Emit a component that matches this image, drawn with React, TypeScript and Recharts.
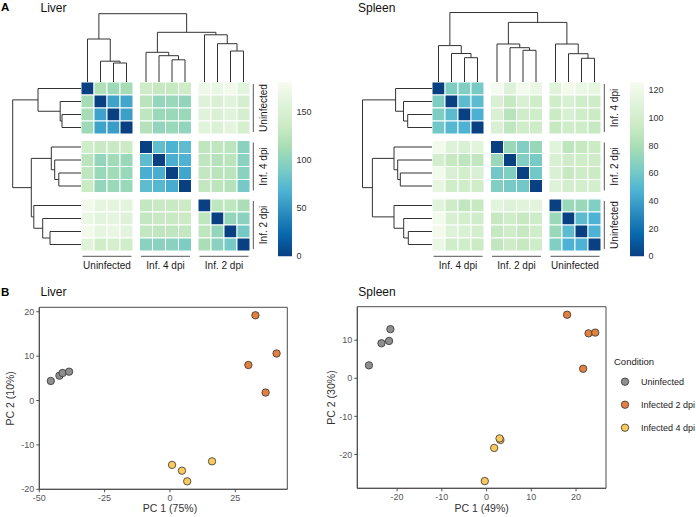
import React from 'react';
import { ScatterChart, Scatter, XAxis, YAxis, ReferenceArea } from 'recharts';

const FONT = '"Liberation Sans", Arial, Helvetica, sans-serif';

// reversed GnBu palette (0 -> dark blue, max -> pale)
const GNBU = ['#084081', '#0868ac', '#2b8cbe', '#4eb3d3', '#7bccc4', '#a8ddb5', '#ccebc5', '#e0f3db', '#f7fcf0'];

// ---------- heatmap data ----------
const liverGroups = ['Uninfected', 'Inf. 4 dpi', 'Inf. 2 dpi'];
const spleenGroups = ['Inf. 4 dpi', 'Inf. 2 dpi', 'Uninfected'];

const liverDist = [
  [0, 118, 108, 112, 138, 132, 132, 138, 172, 168, 175, 160],
  [112, 0, 58, 60, 125, 103, 106, 102, 155, 150, 158, 145],
  [112, 58, 0, 56, 127, 106, 106, 106, 157, 152, 158, 145],
  [108, 58, 55, 0, 122, 102, 106, 102, 158, 152, 162, 146],
  [140, 133, 133, 136, 0, 78, 68, 76, 128, 128, 126, 98],
  [125, 103, 110, 106, 76, 0, 65, 68, 128, 122, 125, 98],
  [128, 106, 110, 106, 65, 65, 0, 60, 130, 125, 125, 98],
  [135, 103, 106, 106, 76, 72, 64, 0, 130, 126, 122, 88],
  [174, 164, 162, 160, 130, 133, 133, 136, 0, 127, 127, 115],
  [168, 160, 162, 155, 130, 133, 133, 136, 127, 0, 103, 98],
  [177, 164, 166, 160, 130, 128, 128, 130, 127, 103, 0, 88],
  [158, 140, 145, 140, 98, 98, 98, 92, 115, 98, 88, 0],
];

const spleenDist = [
  [0, 64, 65, 62, 125, 108, 122, 117, 110, 123, 118, 115],
  [64, 0, 52, 52, 105, 92, 105, 98, 98, 104, 98, 96],
  [64, 52, 0, 46, 105, 86, 98, 98, 94, 104, 98, 94],
  [60, 50, 47, 0, 105, 89, 98, 96, 92, 98, 96, 92],
  [122, 108, 105, 112, 0, 74, 65, 73, 110, 88, 92, 94],
  [100, 92, 88, 90, 74, 0, 65, 62, 104, 96, 98, 96],
  [122, 105, 100, 105, 60, 65, 0, 60, 105, 92, 96, 94],
  [115, 98, 98, 98, 65, 62, 60, 0, 108, 100, 100, 100],
  [110, 96, 90, 92, 112, 108, 110, 112, 0, 74, 74, 65],
  [122, 104, 100, 98, 92, 98, 92, 96, 74, 0, 52, 47],
  [123, 108, 105, 100, 92, 98, 92, 98, 74, 52, 0, 47],
  [117, 98, 98, 94, 90, 96, 92, 96, 65, 47, 47, 0],
];

const liverMax = 181;
const spleenMax = 126;
const liverBarTicks = [0, 50, 100, 150];
const spleenBarTicks = [0, 20, 40, 60, 80, 100, 120];

// dendrograms: node(height, left, right); leaves are indices
type Tree = number | { h: number; l: Tree; r: Tree };
const N = (h: number, l: Tree, r: Tree): Tree => ({ h, l, r });
const liverTree = N(68.3,
  N(43, 0, N(20.8, 1, N(19, 2, 3))),
  N(49.7, N(29.7, 4, N(26.3, 5, N(22.2, 6, 7))), N(47.2, 8, N(38.3, 9, N(31, 10, 11)))));
const spleenTree = N(69.5,
  N(36.4, 0, N(28.5, 1, N(24.3, 2, 3))),
  N(59.6, N(38, 4, N(34.3, 5, N(31.7, 6, 7))), N(38, 8, N(28.3, 9, N(23.7, 10, 11)))));

// ---------- PCA data ----------
const conditions = ['Uninfected', 'Infected 2 dpi', 'Infected 4 dpi'];
const conditionColors = ['#8e8e8e', '#e2803f', '#fac95e'];

const liverUninfected = [{ x: -45.6, y: 4.4 }, { x: -42.3, y: 5.6 }, { x: -41.1, y: 6.2 }, { x: -38.6, y: 6.5 }];
const liverInf2 = [{ x: 32.7, y: 19.2 }, { x: 40.8, y: 10.6 }, { x: 30.0, y: 8.0 }, { x: 36.6, y: 1.8 }];
const liverInf4 = [{ x: 0.8, y: -14.5 }, { x: 4.6, y: -15.8 }, { x: 6.6, y: -18.2 }, { x: 16.1, y: -13.7 }];

const spleenUninfected = [{ x: -21.5, y: 12.9 }, { x: -23.5, y: 9.2 }, { x: -21.8, y: 9.8 }, { x: -26.3, y: 3.4 }];
const spleenInf2 = [{ x: 18.0, y: 16.7 }, { x: 22.8, y: 11.8 }, { x: 24.3, y: 12.0 }, { x: 21.6, y: 2.5 }];
const spleenInf4 = [{ x: 3.1, y: -16.2 }, { x: 2.9, y: -15.8 }, { x: 1.7, y: -18.3 }, { x: -0.4, y: -27.0 }];

const liverXTicks = [-50, -25, 0, 25];
const liverYTicks = [-20, -10, 0, 10, 20];
const spleenXTicks = [-20, -10, 0, 10, 20];
const spleenYTicks = [-20, -10, 0, 10];

// ---------- layout constants ----------
const SPAN = 13; // 12 cells + 2 half-cell gaps
const HM = 169; // heatmap px size
const DENDRO = 70;
const ZERO = { top: 0, right: 0, bottom: 0, left: 0 };
const GROUP_CENTERS = [2, 6.5, 11];
const pos = (i: number) => i + 0.5 + 0.5 * Math.floor(i / 4);

function hexToRgb(h: string) {
  return [parseInt(h.slice(1, 3), 16), parseInt(h.slice(3, 5), 16), parseInt(h.slice(5, 7), 16)];
}
function colorFor(v: number, max: number) {
  const t = Math.max(0, Math.min(1, v / max)) * (GNBU.length - 1);
  const i = Math.min(GNBU.length - 2, Math.floor(t));
  const f = t - i;
  const a = hexToRgb(GNBU[i]);
  const b = hexToRgb(GNBU[i + 1]);
  const c = a.map((x, k) => Math.round(x + (b[k] - x) * f));
  return `rgb(${c[0]},${c[1]},${c[2]})`;
}

function dendroSegments(tree: Tree) {
  const segs: { p: number; h: number }[][] = [];
  const walk = (n: Tree): { p: number; h: number } => {
    if (typeof n === 'number') return { p: pos(n), h: 0 };
    const L = walk(n.l);
    const R = walk(n.r);
    segs.push([{ p: L.p, h: L.h }, { p: L.p, h: n.h }, { p: R.p, h: n.h }, { p: R.p, h: R.h }]);
    return { p: (L.p + R.p) / 2, h: n.h };
  };
  walk(tree);
  return segs;
}

const noDot = () => <g />;

function ColTick(props: any) {
  const { x, y, index, labels } = props;
  return (
    <g>
      <line x1={x - 24.5} x2={x + 24.5} y1={y + 5.3} y2={y + 5.3} stroke="#555" strokeWidth={1} />
      <text x={x} y={y + 17.8} textAnchor="middle" fontSize={10} fill="#1a1a1a">{labels[index]}</text>
    </g>
  );
}
function RowTick(props: any) {
  const { x, y, index, labels } = props;
  return (
    <g>
      <line x1={x + 3.3} x2={x + 3.3} y1={y - 24} y2={y + 24} stroke="#555" strokeWidth={1} />
      <text transform={`translate(${x + 16.8},${y}) rotate(-90)`} textAnchor="middle" fontSize={10} fill="#1a1a1a">{labels[index]}</text>
    </g>
  );
}

function HeatPanel({ hmLeft, hmTop, matrix, max, groups, tree, barLeft, barTicks, id }: any) {
  const cells: { x: number; y: number; v: number }[] = [];
  matrix.forEach((row: number[], r: number) => row.forEach((v: number, c: number) => cells.push({ x: pos(c), y: pos(r), v })));
  const segs = dendroSegments(tree);
  const cellPx = HM / SPAN;
  const cellShape = (p: any) => (
    <rect x={p.cx - cellPx / 2} y={p.cy - cellPx / 2} width={cellPx} height={cellPx}
      fill={colorFor(p.payload.v, max)} stroke="#ffffff" strokeWidth={1} />
  );
  return (
    <>
      {/* top dendrogram */}
      <div style={{ position: 'absolute', left: hmLeft, top: hmTop - DENDRO }}>
        <ScatterChart width={HM} height={DENDRO} margin={ZERO}>
          <XAxis type="number" dataKey="x" domain={[0, SPAN]} hide allowDataOverflow />
          <YAxis type="number" dataKey="y" domain={[0, DENDRO]} hide allowDataOverflow />
          {segs.map((s, i) => (
            <Scatter key={i} data={s.map((q) => ({ x: q.p, y: q.h }))} line={{ stroke: '#333', strokeWidth: 1 }}
              lineType="joint" shape={noDot} isAnimationActive={false} />
          ))}
        </ScatterChart>
      </div>
      {/* left dendrogram */}
      <div style={{ position: 'absolute', left: hmLeft - DENDRO, top: hmTop }}>
        <ScatterChart width={DENDRO} height={HM} margin={ZERO}>
          <XAxis type="number" dataKey="x" domain={[0, DENDRO]} reversed hide allowDataOverflow />
          <YAxis type="number" dataKey="y" domain={[0, SPAN]} reversed hide allowDataOverflow />
          {segs.map((s, i) => (
            <Scatter key={i} data={s.map((q) => ({ x: q.h, y: q.p }))} line={{ stroke: '#333', strokeWidth: 1 }}
              lineType="joint" shape={noDot} isAnimationActive={false} />
          ))}
        </ScatterChart>
      </div>
      {/* heatmap */}
      <div style={{ position: 'absolute', left: hmLeft, top: hmTop }}>
        <ScatterChart width={HM + 30} height={HM + 25} margin={ZERO}>
          <XAxis type="number" dataKey="x" domain={[0, SPAN]} allowDataOverflow ticks={GROUP_CENTERS} interval={0}
            height={25} axisLine={false} tickLine={false} tickSize={0} tickMargin={0} tick={<ColTick labels={groups} />} />
          <YAxis type="number" dataKey="y" domain={[0, SPAN]} allowDataOverflow reversed orientation="right" ticks={GROUP_CENTERS}
            interval={0} width={30} axisLine={false} tickLine={false} tickSize={0} tickMargin={0} tick={<RowTick labels={groups} />} />
          <Scatter data={cells} shape={cellShape} isAnimationActive={false} />
        </ScatterChart>
      </div>
      {/* color bar */}
      <div style={{ position: 'absolute', left: barLeft, top: hmTop - 6 }}>
        <ScatterChart width={14 + 30} height={174.3 + 12} margin={{ top: 6, bottom: 6, left: 0, right: 0 }}>
          <defs>
            <linearGradient id={id} x1="0" y1="0" x2="0" y2="1">
              {GNBU.slice().reverse().map((c, i) => (
                <stop key={i} offset={i / (GNBU.length - 1)} stopColor={c} />
              ))}
            </linearGradient>
          </defs>
          <XAxis type="number" dataKey="x" domain={[0, 1]} hide allowDataOverflow />
          <YAxis type="number" dataKey="y" orientation="right" domain={[0, max]} allowDataOverflow ticks={barTicks} interval={0}
            width={30} axisLine={false} tickLine={false} tickSize={0} tickMargin={4.5} tick={{ fontSize: 9, fill: '#333' }} />
          <ReferenceArea x1={0} x2={1} y1={0} y2={max} fill={`url(#${id})`} fillOpacity={1} stroke="none" />
        </ScatterChart>
      </div>
    </>
  );
}

function PcaPanel({ left, top, width, height, margin, xDomain, yDomain, xTicks, yTicks, yAxisWidth, xAxisHeight, series, xLabel, yLabel, xLabelDx, yLabelOffset }: any) {
  return (
    <div style={{ position: 'absolute', left, top }}>
      <ScatterChart width={width} height={height} margin={margin}>
        <XAxis type="number" dataKey="x" domain={xDomain} allowDataOverflow ticks={xTicks} interval={0} height={xAxisHeight}
          stroke="#4d4d4d" tickSize={3} tickMargin={2} tick={{ fontSize: 9, fill: '#555' }}
          label={{ value: xLabel, position: 'insideBottom', offset: 2, fontSize: 10.5, fill: '#333', dx: xLabelDx }} />
        <YAxis type="number" dataKey="y" domain={yDomain} allowDataOverflow ticks={yTicks} interval={0} width={yAxisWidth}
          stroke="#4d4d4d" tickSize={3} tickMargin={2} tick={{ fontSize: 9, fill: '#555' }}
          label={{ value: yLabel, angle: -90, position: 'insideLeft', offset: yLabelOffset, fontSize: 10.5, fill: '#333', style: { textAnchor: 'middle' } }} />
        <ReferenceArea x1={xDomain[0]} x2={xDomain[1]} y1={yDomain[0]} y2={yDomain[1]} fill="none" stroke="#4d4d4d" strokeWidth={1} />
        {series.map((s: any, i: number) => (
          <Scatter key={i} name={conditions[i]} data={s} isAnimationActive={false}
            shape={(p: any) => <circle cx={p.cx} cy={p.cy} r={3.7} fill={conditionColors[i]} stroke="#333" strokeWidth={0.8} />} />
        ))}
      </ScatterChart>
    </div>
  );
}

export default function App() {
  return (
    <div style={{ position: 'absolute', left: 0, top: 0, width: 696, height: 517, background: '#fff', fontFamily: FONT, overflow: 'hidden' }}>
      <svg width={696} height={517} style={{ position: 'absolute', left: 0, top: 0 }}>
        <text x={1} y={11} fontSize={11.5} fontWeight="bold" fill="#000">A</text>
        <text x={40.5} y={11.5} fontSize={12} fill="#111">Liver</text>
        <text x={358} y={11.5} fontSize={12} fill="#111">Spleen</text>
        <text x={1} y={295.5} fontSize={11.5} fontWeight="bold" fill="#000">B</text>
        <text x={40.5} y={295.5} fontSize={12} fill="#111">Liver</text>
        <text x={358.3} y={295.5} fontSize={12} fill="#111">Spleen</text>
      </svg>

      <HeatPanel hmLeft={80.7} hmTop={81.7} matrix={liverDist} max={liverMax} groups={liverGroups} tree={liverTree}
        barLeft={278} barTicks={liverBarTicks} id="cbLiver" />
      <HeatPanel hmLeft={431.7} hmTop={81.7} matrix={spleenDist} max={spleenMax} groups={spleenGroups} tree={spleenTree}
        barLeft={630} barTicks={spleenBarTicks} id="cbSpleen" />

      <PcaPanel left={0} top={297} width={300} height={216.5} margin={{ top: 10.3, right: 12.7, bottom: 0, left: 0 }}
        xDomain={[-50, 44.9]} yDomain={[-20, 21]} xTicks={liverXTicks} yTicks={liverYTicks} yAxisWidth={39.3} xAxisHeight={24.2}
        series={[liverUninfected, liverInf2, liverInf4]} xLabel="PC 1 (75%)" yLabel="PC 2 (10%)" xLabelDx={6.7} yLabelOffset={10.3} />
      <PcaPanel left={320} top={297} width={296} height={216.5} margin={{ top: 9.7, right: 10, bottom: 0, left: 0 }}
        xDomain={[-28.9, 26.7]} yDomain={[-28.9, 18.8]} xTicks={spleenXTicks} yTicks={spleenYTicks} yAxisWidth={37.3} xAxisHeight={25.2}
        series={[spleenUninfected, spleenInf2, spleenInf4]} xLabel="PC 1 (49%)" yLabel="PC 2 (30%)" xLabelDx={0} yLabelOffset={11} />

      <svg width={96} height={90} style={{ position: 'absolute', left: 600, top: 350 }}>
        <text x={14} y={15} fontSize={9.5} fill="#222">Condition</text>
        {conditions.map((c, i) => (
          <g key={c}>
            <circle cx={25} cy={31.7 + i * 23} r={3.7} fill={conditionColors[i]} stroke="#333" strokeWidth={0.8} />
            <text x={41} y={31.7 + i * 23 + 3.2} fontSize={9} fill="#222">{c}</text>
          </g>
        ))}
      </svg>
    </div>
  );
}
